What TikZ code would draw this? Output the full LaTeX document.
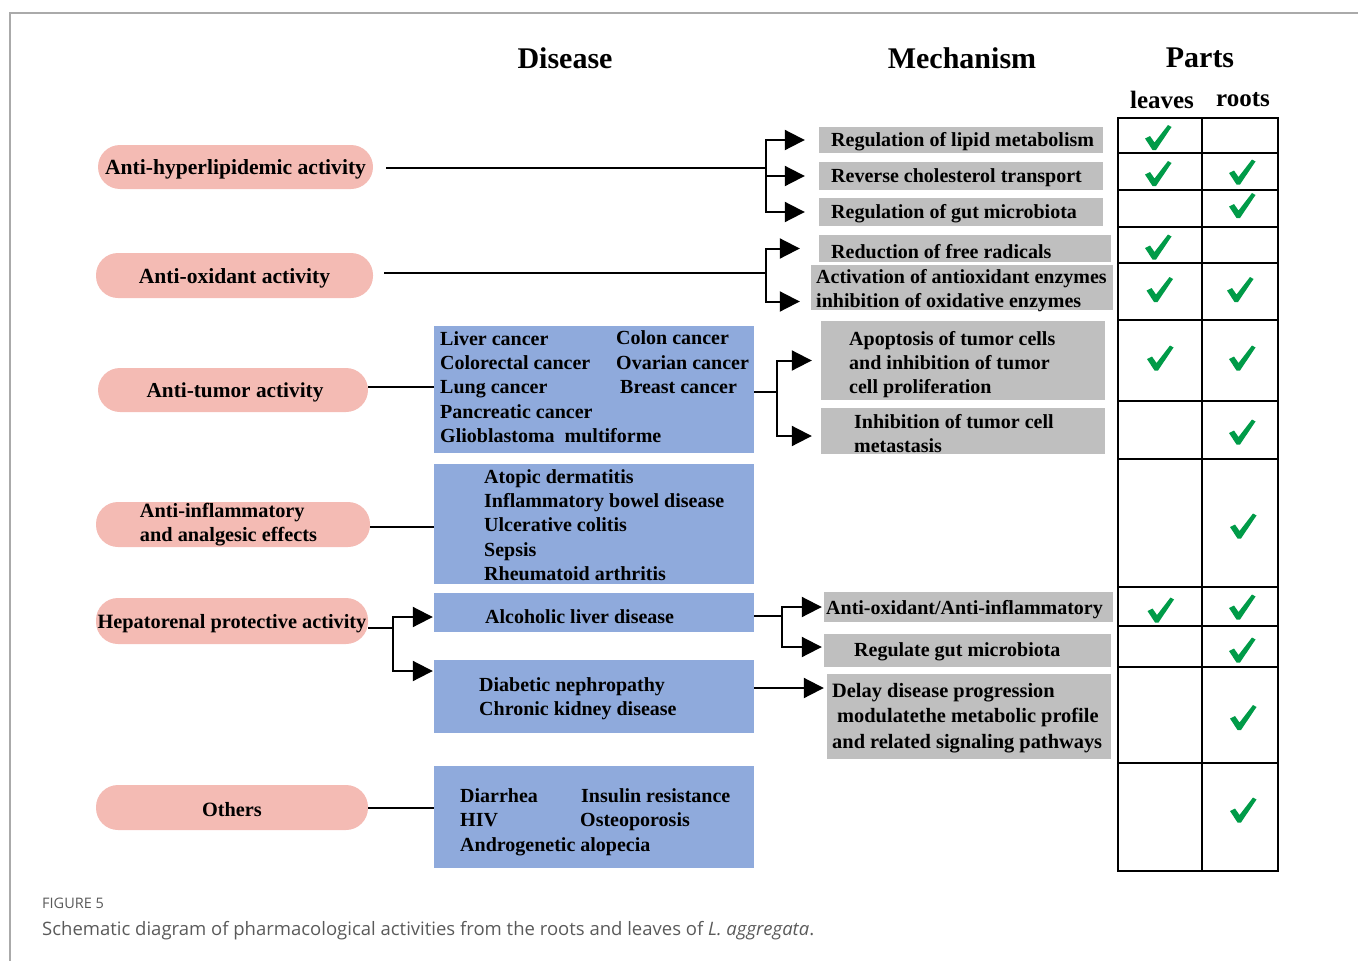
\documentclass[tikz,border=0pt]{standalone}
\usepackage{fontspec}
\setmainfont{Liberation Serif}
\newfontfamily\capfont{Open Sans}
\usetikzlibrary{arrows.meta,calc}
\definecolor{pinkf}{RGB}{244,187,180}
\definecolor{bluef}{RGB}{143,170,220}
\definecolor{grayf}{RGB}{191,191,191}
\definecolor{ckg}{RGB}{0,155,72}
\definecolor{framec}{RGB}{170,170,170}
\definecolor{capc}{RGB}{90,90,90}
\newcommand{\rbox}[6]{\node[#1, minimum width={#5-#3}, minimum height={#6-#4}] (#2) at ({(#3+#5)/2},{(#4+#6)/2}) {};}
\begin{document}
\begin{tikzpicture}[x=1pt,y=-1pt,
  pill/.style={fill=pinkf, draw=none, rounded corners=22pt, inner sep=0pt},
  ptxt/.style={inner sep=0pt, align=left, yshift=-2.5pt, font=\bfseries\fontsize{21.6}{24}\selectfont},
  bbox/.style={fill=bluef, draw=none, inner sep=0pt},
  gbox/.style={fill=grayf, draw=none, inner sep=0pt},
  txt/.style={inner sep=0pt, align=left, font=\bfseries\fontsize{20}{24.4}\selectfont},
  dn/.style={yshift=-2.5pt},
  hdr/.style={inner sep=0pt, yshift=-1pt, font=\bfseries\fontsize{30}{34}\selectfont},
  sub/.style={inner sep=0pt, yshift=-1pt, font=\bfseries\fontsize{25}{29}\selectfont},
  link/.style={line width=2pt, black},
  arr/.style={-{Triangle[length=20pt,width=20pt]}},
  grid/.style={line width=2.5pt, black},
  chk/.pic={\fill[ckg] (-13,1) -- (-8,-1.5) -- (-3.5,5) -- (10,-12.5) -- (13.5,-10.5) -- (-2,12.5) -- (-5.5,12.5) -- cycle;}
]
\useasboundingbox (0,0) rectangle (1358,961);
% frame
\draw[framec, line width=1.3pt] (10,961) -- (10,13) -- (1358,13);

% headers
\node[hdr] (hdis) at (565,57) {Disease};
\node[hdr] (hmec) at (962,57) {Mechanism};
\node[hdr] (hpar) at (1200,57) {Parts};
\node[sub] (hlv) at (1162,99) {leaves};
\node[sub] (hrt) at (1243,99) {roots};

% pills
\node[pill, minimum width=275, minimum height=44] (p1) at (235.5,167) {};
\node[pill, minimum width=277, minimum height=45] (p2) at (234.5,275.5) {};
\node[pill, minimum width=270, minimum height=44] (p3) at (233,390) {};
\node[pill, minimum width=274, minimum height=45] (p4) at (233,524.5) {};
\node[pill, minimum width=272, minimum height=46] (p5) at (232,621) {};
\node[pill, minimum width=272, minimum height=45] (p6) at (232,807.5) {};
\node[ptxt] (p1t) at (p1.center) {Anti-hyperlipidemic activity};
\node[ptxt] (p2t) at (p2.center) {Anti-oxidant activity};
\node[ptxt, font=\bfseries\fontsize{21.3}{24}\selectfont] (p3t) at ([xshift=2pt]p3.center) {Anti-tumor activity};
\node[ptxt, yshift=2pt, font=\bfseries\fontsize{20.3}{24}\selectfont] (p4t) at ([xshift=-4.5pt]p4.center) {Anti-inflammatory\\and analgesic effects};
\node[ptxt, font=\bfseries\fontsize{20.3}{24}\selectfont] (p5t) at (p5.center) {Hepatorenal protective activity};
\node[ptxt, font=\bfseries\fontsize{20.3}{24}\selectfont] (p6t) at (p6.center) {Others};

% blue boxes
\rbox{bbox}{b1}{434}{326}{754}{453}
\rbox{bbox}{b2}{434}{464}{754}{584}
\rbox{bbox}{b3}{434}{593}{754}{632}
\rbox{bbox}{b4}{434}{660}{754}{733}
\rbox{bbox}{b5}{434}{766}{754}{868}
\node[txt, anchor=west] (b1a) at (440,387) {Liver cancer\\Colorectal cancer\\Lung cancer\\Pancreatic cancer\\Glioblastoma\ \ multiforme};
\node[txt, anchor=west] (b1b) at (616,362.5) {Colon cancer\\Ovarian cancer\\\hspace{4pt}Breast cancer};
\node[txt, anchor=west] (b2a) at (484,525) {Atopic dermatitis\\Inflammatory bowel disease\\Ulcerative colitis\\Sepsis\\Rheumatoid arthritis};
\node[txt, anchor=west, dn] (b3a) at (485,614) {Alcoholic liver disease};
\node[txt, anchor=west, dn] (b4a) at (479,696) {Diabetic nephropathy\\Chronic kidney disease};
\node[txt, anchor=west, dn] (b5a) at (460,819.5) {Diarrhea\\HIV\\Androgenetic alopecia};
\node[txt, anchor=west, dn] (b5b) at (580,807) {\hspace{1pt}Insulin resistance\\Osteoporosis};

% gray boxes
\rbox{gbox}{g1}{819}{127}{1103}{153}
\rbox{gbox}{g2}{819}{162}{1103}{190}
\rbox{gbox}{g3}{819}{198}{1103}{226}
\rbox{gbox}{g4}{819}{235}{1111}{262}
\rbox{gbox}{g5}{811}{265}{1113}{310}
\rbox{gbox}{g6}{821}{321}{1105}{400}
\rbox{gbox}{g7}{821}{408}{1105}{454}
\rbox{gbox}{g8}{824}{592}{1113}{622}
\rbox{gbox}{g9}{824}{634}{1111}{667}
\rbox{gbox}{g10}{827}{674}{1111}{759}
\node[txt, anchor=west, dn] (g1t) at (831,139) {Regulation of lipid metabolism};
\node[txt, anchor=west, dn] (g2t) at (831,175) {Reverse cholesterol transport};
\node[txt, anchor=west, dn] (g3t) at (831,211) {Regulation of gut microbiota};
\node[txt, anchor=west, dn] (g4t) at (831,249) {Reduction of free radicals};
\node[txt, anchor=west, dn] (g5t) at (816,288) {Activation of antioxidant enzymes\\inhibition of oxidative enzymes};
\node[txt, anchor=west, dn] (g6t) at (849,362) {Apoptosis of tumor cells\\and inhibition of tumor\\cell proliferation};
\node[txt, anchor=west] (g7t) at (854,433.5) {Inhibition of tumor cell\\metastasis};
\node[txt, anchor=west, dn] (g8t) at (826,607) {Anti-oxidant/Anti-inflammatory};
\node[txt, anchor=west, dn] (g9t) at (854,649) {Regulate gut microbiota};
\node[txt, anchor=west, dn, font=\bfseries\fontsize{20.4}{25.5}\selectfont] (g10t) at (832,715.5) {Delay disease progression\\\hspace{5pt}modulatethe metabolic profile\\and related signaling pathways};

% connectors group 1
\coordinate (j1) at (766,168);
\draw[link] ([xshift=13pt]p1.east |- j1) -- (j1);
\draw[link, arr, shorten >=14pt] (j1) |- (g1.west);
\draw[link, arr, shorten >=14pt] (j1) |- (g2.west);
\draw[link, arr, shorten >=14pt] (j1) |- (g3.west);
% group 2
\coordinate (j2) at (766,273);
\draw[link] ([xshift=11pt]p2.east |- j2) -- (j2);
\draw[link, arr, shorten >=19pt] (j2) |- (g4.west);
\draw[link, arr, shorten >=11pt] (j2) |- ([yshift=-14pt]g5.west);
% group 3
\draw[link] ([yshift=3pt]p3.east) -- ([yshift=3pt]p3.east -| b1.west);
\coordinate (j3) at ([xshift=23pt,yshift=-2.5pt]b1.east);
\draw[link] ([yshift=-2.5pt]b1.east) -- (j3);
\draw[link, arr, shorten >=9pt] (j3) |- (g6.west);
\draw[link, arr, shorten >=9pt] (j3) |- ([yshift=-5pt]g7.west);
% group 4
\draw[link] ([yshift=-2pt]p4.east) -- ([yshift=-2pt]p4.east -| b2.west);
% group 5
\coordinate (j5) at ([xshift=25pt,yshift=-7pt]p5.east);
\draw[link] ([yshift=-7pt]p5.east) -- (j5);
\draw[link, arr, shorten >=1pt] (j5) |- ([yshift=-4.5pt]b3.west);
\draw[link, arr, shorten >=1pt] (j5) |- ([yshift=25.5pt]b4.west);
\coordinate (j6) at ([xshift=28pt,yshift=-3.5pt]b3.east);
\draw[link] ([yshift=-3.5pt]b3.east) -- (j6);
\draw[link, arr, shorten >=2pt] (j6) |- (g8.west);
\draw[link, arr, shorten >=2pt] (j6) |- ([yshift=3.5pt]g9.west);
\coordinate (k4) at ([yshift=8.5pt]b4.east);
\draw[link, arr, shorten >=3pt] (k4) -- (k4 -| g10.west);
% group 6
\draw[link] (p6.east) -- (p6.east -| b5.west);

% table
\draw[grid] (1118,118) rectangle (1278,871);
\draw[grid] (1202,118) -- (1202,871);
\foreach \yy in {153,190,227,263,320,401,459,587,626,667,763}
  \draw[grid] (1118,\yy) -- (1278,\yy);

% checks
\foreach \cx/\cy in {1158/137.5, 1158/173.5, 1242/172, 1242/205.5, 1158/247, 1159.5/289.5, 1240/289.5,
  1160/358, 1242/358, 1242/432, 1243/526, 1160.5/610, 1242/607, 1242/650, 1243/717.5, 1243/810}
  \pic at (\cx,\cy) {chk};

% caption
\node[anchor=west, inner sep=0pt, yshift=-0.5pt, text=capc, font=\capfont\fontsize{14.5}{17}\selectfont] (fig) at (42,903) {FIGURE 5};
\node[anchor=west, inner sep=0pt, yshift=-1.5pt, text=capc, font=\capfont\fontsize{18.5}{22}\selectfont] (cap) at (42,929) {Schematic diagram of pharmacological activities from the roots and leaves of \textit{L. aggregata}.};
\end{tikzpicture}
\end{document}
